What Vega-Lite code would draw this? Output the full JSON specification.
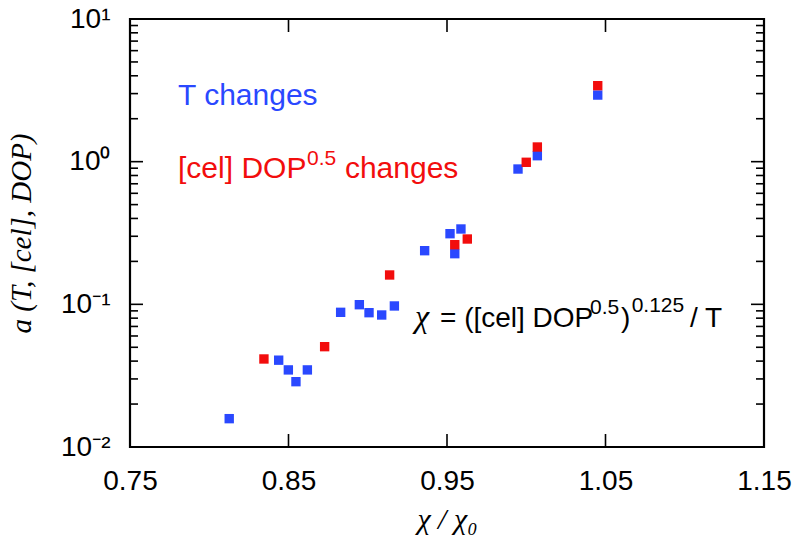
{
  "$schema": "https://vega.github.io/schema/vega-lite/v6.json",
  "width": 634,
  "height": 428,
  "autosize": {"type": "none"},
  "padding": {"left": 130, "top": 19, "right": 28, "bottom": 93},
  "background": "white",
  "config": {
    "view": {"stroke": "black", "strokeWidth": 2.2},
    "axis": {"domain": false, "ticks": false, "tickSize": 0, "grid": false, "labelColor": "black", "labelFont": "Liberation Sans", "labelFontSize": 28, "titleColor": "black"}
  },
  "resolve": {"axis": {"x": "independent", "y": "independent"}},
  "layer": [
    {
      "data": {"values": [
        {"x": 0.8126, "y": 0.0158, "s": "T"},
        {"x": 0.8438, "y": 0.0406, "s": "T"},
        {"x": 0.8499, "y": 0.0347, "s": "T"},
        {"x": 0.8547, "y": 0.0287, "s": "T"},
        {"x": 0.8619, "y": 0.0347, "s": "T"},
        {"x": 0.8829, "y": 0.0879, "s": "T"},
        {"x": 0.8947, "y": 0.0994, "s": "T"},
        {"x": 0.9008, "y": 0.0874, "s": "T"},
        {"x": 0.9088, "y": 0.0842, "s": "T"},
        {"x": 0.9168, "y": 0.0974, "s": "T"},
        {"x": 0.9359, "y": 0.2377, "s": "T"},
        {"x": 0.9519, "y": 0.3127, "s": "T"},
        {"x": 0.9549, "y": 0.2265, "s": "T"},
        {"x": 0.9588, "y": 0.3374, "s": "T"},
        {"x": 0.9948, "y": 0.888, "s": "T"},
        {"x": 1.007, "y": 1.101, "s": "T"},
        {"x": 1.0451, "y": 2.93, "s": "T"},
        {"x": 0.8345, "y": 0.0414, "s": "cel"},
        {"x": 0.8728, "y": 0.0505, "s": "cel"},
        {"x": 0.9138, "y": 0.1606, "s": "cel"},
        {"x": 0.9549, "y": 0.2618, "s": "cel"},
        {"x": 0.9628, "y": 0.287, "s": "cel"},
        {"x": 1.0, "y": 0.99, "s": "cel"},
        {"x": 1.007, "y": 1.267, "s": "cel"},
        {"x": 1.0451, "y": 3.41, "s": "cel"}
      ]},
      "mark": {"type": "point", "shape": "square", "filled": true, "size": 88, "opacity": 1},
      "encoding": {
        "x": {"field": "x", "type": "quantitative", "scale": {"domain": [0.75, 1.15], "nice": false, "zero": false},
          "axis": {"orient": "bottom", "values": [0.75, 0.85, 0.95, 1.05, 1.15], "format": ".2f", "labelPadding": 20, "labelFlush": false,
            "title": "χ / χ₀", "titleFont": "Liberation Serif", "titleFontStyle": "italic", "titleFontWeight": "normal", "titleFontSize": 30, "titleY": 81, "titleBaseline": "alphabetic"}},
        "y": {"field": "y", "type": "quantitative", "scale": {"type": "log", "domain": [0.01, 10], "nice": false},
          "axis": {"orient": "left", "values": [0.01, 0.1, 1, 10], "labelPadding": 20,
            "labelExpr": "datum.value < 0.05 ? '10⁻²' : datum.value < 0.5 ? '10⁻¹' : datum.value < 5 ? '10⁰' : '10¹'",
            "title": "a (T, [cel], DOP)", "titleFont": "Liberation Serif", "titleFontStyle": "italic", "titleFontWeight": "normal", "titleFontSize": 29, "titleX": -100, "titleY": 214, "titleAngle": 270, "titleBaseline": "alphabetic", "titleAlign": "center"}},
        "color": {"field": "s", "type": "nominal", "scale": {"domain": ["T", "cel"], "range": ["#2a48ff", "#f20d0d"]}, "legend": null}
      }
    },
    {
      "data": {"values": [{"v": 0.01}, {"v": 0.1}, {"v": 1}, {"v": 10}]},
      "mark": {"type": "tick", "orient": "horizontal", "size": 13, "thickness": 1.6, "color": "black", "opacity": 1, "xOffset": 6.5},
      "encoding": {
        "x": {"datum": 0.75, "type": "quantitative", "scale": {"domain": [0.75, 1.15], "nice": false, "zero": false}, "axis": null},
        "y": {"field": "v", "type": "quantitative", "scale": {"type": "log", "domain": [0.01, 10], "nice": false}, "axis": null}
      }
    },
    {
      "data": {"values": [{"v": 0.01}, {"v": 0.1}, {"v": 1}, {"v": 10}]},
      "mark": {"type": "tick", "orient": "horizontal", "size": 13, "thickness": 1.6, "color": "black", "opacity": 1, "xOffset": -6.5},
      "encoding": {
        "x": {"datum": 1.15, "type": "quantitative", "scale": {"domain": [0.75, 1.15], "nice": false, "zero": false}, "axis": null},
        "y": {"field": "v", "type": "quantitative", "scale": {"type": "log", "domain": [0.01, 10], "nice": false}, "axis": null}
      }
    },
    {
      "data": {"values": [{"v": 0.02}, {"v": 0.03}, {"v": 0.04}, {"v": 0.05}, {"v": 0.06}, {"v": 0.07}, {"v": 0.08}, {"v": 0.09}, {"v": 0.2}, {"v": 0.3}, {"v": 0.4}, {"v": 0.5}, {"v": 0.6}, {"v": 0.7}, {"v": 0.8}, {"v": 0.9}, {"v": 2}, {"v": 3}, {"v": 4}, {"v": 5}, {"v": 6}, {"v": 7}, {"v": 8}, {"v": 9}]},
      "mark": {"type": "tick", "orient": "horizontal", "size": 8, "thickness": 1.6, "color": "black", "opacity": 1, "xOffset": 4},
      "encoding": {
        "x": {"datum": 0.75, "type": "quantitative", "scale": {"domain": [0.75, 1.15], "nice": false, "zero": false}, "axis": null},
        "y": {"field": "v", "type": "quantitative", "scale": {"type": "log", "domain": [0.01, 10], "nice": false}, "axis": null}
      }
    },
    {
      "data": {"values": [{"v": 0.02}, {"v": 0.03}, {"v": 0.04}, {"v": 0.05}, {"v": 0.06}, {"v": 0.07}, {"v": 0.08}, {"v": 0.09}, {"v": 0.2}, {"v": 0.3}, {"v": 0.4}, {"v": 0.5}, {"v": 0.6}, {"v": 0.7}, {"v": 0.8}, {"v": 0.9}, {"v": 2}, {"v": 3}, {"v": 4}, {"v": 5}, {"v": 6}, {"v": 7}, {"v": 8}, {"v": 9}]},
      "mark": {"type": "tick", "orient": "horizontal", "size": 8, "thickness": 1.6, "color": "black", "opacity": 1, "xOffset": -4},
      "encoding": {
        "x": {"datum": 1.15, "type": "quantitative", "scale": {"domain": [0.75, 1.15], "nice": false, "zero": false}, "axis": null},
        "y": {"field": "v", "type": "quantitative", "scale": {"type": "log", "domain": [0.01, 10], "nice": false}, "axis": null}
      }
    },
    {
      "data": {"values": [{"v": 0.85}, {"v": 0.95}, {"v": 1.05}]},
      "mark": {"type": "tick", "orient": "vertical", "size": 13, "thickness": 1.6, "color": "black", "opacity": 1, "yOffset": -6.5},
      "encoding": {
        "x": {"field": "v", "type": "quantitative", "scale": {"domain": [0.75, 1.15], "nice": false, "zero": false}, "axis": null},
        "y": {"datum": 0.01, "type": "quantitative", "scale": {"type": "log", "domain": [0.01, 10], "nice": false}, "axis": null}
      }
    },
    {
      "data": {"values": [{"v": 0.85}, {"v": 0.95}, {"v": 1.05}]},
      "mark": {"type": "tick", "orient": "vertical", "size": 13, "thickness": 1.6, "color": "black", "opacity": 1, "yOffset": 6.5},
      "encoding": {
        "x": {"field": "v", "type": "quantitative", "scale": {"domain": [0.75, 1.15], "nice": false, "zero": false}, "axis": null},
        "y": {"datum": 10, "type": "quantitative", "scale": {"type": "log", "domain": [0.01, 10], "nice": false}, "axis": null}
      }
    },
    {
      "data": {"values": [{"x": 0.7803, "y": 2.496, "t": "T changes"}]},
      "mark": {"type": "text", "align": "left", "baseline": "alphabetic", "font": "Liberation Sans", "fontSize": 30, "color": "#2a48ff"},
      "encoding": {
        "x": {"field": "x", "type": "quantitative", "scale": {"domain": [0.75, 1.15], "nice": false, "zero": false}, "axis": null},
        "y": {"field": "y", "type": "quantitative", "scale": {"type": "log", "domain": [0.01, 10], "nice": false}, "axis": null},
        "text": {"field": "t"}
      }
    },
    {
      "data": {"values": [{"x": 0.7803, "y": 0.768, "t": "[cel] DOP"}, {"x": 0.8856, "y": 0.768, "t": "changes"}]},
      "mark": {"type": "text", "align": "left", "baseline": "alphabetic", "font": "Liberation Sans", "fontSize": 30, "color": "#f20d0d"},
      "encoding": {
        "x": {"field": "x", "type": "quantitative", "scale": {"domain": [0.75, 1.15], "nice": false, "zero": false}, "axis": null},
        "y": {"field": "y", "type": "quantitative", "scale": {"type": "log", "domain": [0.01, 10], "nice": false}, "axis": null},
        "text": {"field": "t"}
      }
    },
    {
      "data": {"values": [{"x": 0.8617, "y": 0.948, "t": "0.5"}]},
      "mark": {"type": "text", "align": "left", "baseline": "alphabetic", "font": "Liberation Sans", "fontSize": 21, "color": "#f20d0d"},
      "encoding": {
        "x": {"field": "x", "type": "quantitative", "scale": {"domain": [0.75, 1.15], "nice": false, "zero": false}, "axis": null},
        "y": {"field": "y", "type": "quantitative", "scale": {"type": "log", "domain": [0.01, 10], "nice": false}, "axis": null},
        "text": {"field": "t"}
      }
    },
    {
      "data": {"values": [{"x": 0.9298, "y": 0.0694, "t": "χ"}]},
      "mark": {"type": "text", "align": "left", "baseline": "alphabetic", "font": "Liberation Serif", "fontStyle": "italic", "fontSize": 32, "color": "black"},
      "encoding": {
        "x": {"field": "x", "type": "quantitative", "scale": {"domain": [0.75, 1.15], "nice": false, "zero": false}, "axis": null},
        "y": {"field": "y", "type": "quantitative", "scale": {"type": "log", "domain": [0.01, 10], "nice": false}, "axis": null},
        "text": {"field": "t"}
      }
    },
    {
      "data": {"values": [{"x": 0.9456, "y": 0.0694, "t": "= ([cel] DOP"}, {"x": 1.0598, "y": 0.0694, "t": ")"}, {"x": 1.1033, "y": 0.0694, "t": "/ T"}]},
      "mark": {"type": "text", "align": "left", "baseline": "alphabetic", "font": "Liberation Sans", "fontSize": 28, "color": "black"},
      "encoding": {
        "x": {"field": "x", "type": "quantitative", "scale": {"domain": [0.75, 1.15], "nice": false, "zero": false}, "axis": null},
        "y": {"field": "y", "type": "quantitative", "scale": {"type": "log", "domain": [0.01, 10], "nice": false}, "axis": null},
        "text": {"field": "t"}
      }
    },
    {
      "data": {"values": [{"x": 1.0402, "y": 0.0855, "t": "0.5"}, {"x": 1.0665, "y": 0.0884, "t": "0.125"}]},
      "mark": {"type": "text", "align": "left", "baseline": "alphabetic", "font": "Liberation Sans", "fontSize": 21, "color": "black"},
      "encoding": {
        "x": {"field": "x", "type": "quantitative", "scale": {"domain": [0.75, 1.15], "nice": false, "zero": false}, "axis": null},
        "y": {"field": "y", "type": "quantitative", "scale": {"type": "log", "domain": [0.01, 10], "nice": false}, "axis": null},
        "text": {"field": "t"}
      }
    }
  ]
}
